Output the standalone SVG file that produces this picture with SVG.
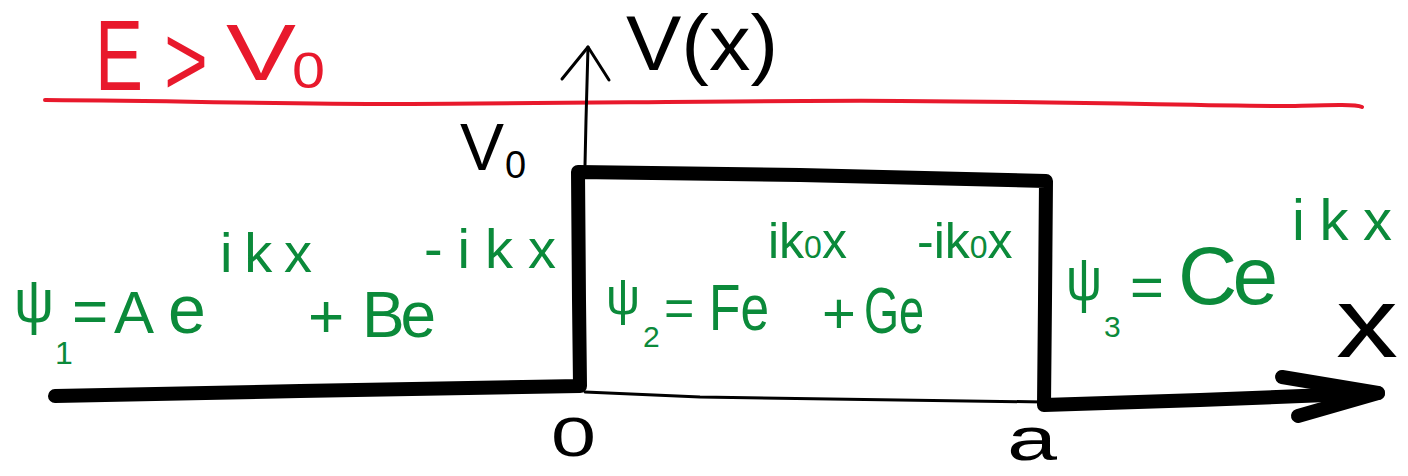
<svg xmlns="http://www.w3.org/2000/svg" width="1408" height="476" viewBox="0 0 1408 476">
<style>
.red{fill:#e8192c;font-family:"Liberation Sans",Arial,sans-serif}
.blk{fill:#000;font-family:"Liberation Sans",Arial,sans-serif}
.grn{fill:#0b8a3a;font-family:"Liberation Sans",Arial,sans-serif}
.thick{fill:none;stroke:#000;stroke-width:14;stroke-linecap:round;stroke-linejoin:round}
.thin{fill:none;stroke:#000;stroke-width:3;stroke-linecap:round;stroke-linejoin:round}
</style>
<rect width="1408" height="476" fill="#fff"/>
<g id="energy">
<path d="M45 100 C200 101 260 104 400 104 C600 103 800 100 900 101 C1100 102 1200 106 1290 106 C1330 105 1355 104 1362 107" fill="none" stroke="#e8192c" stroke-width="4" stroke-linecap="round"/>
<text class="red" x="95" y="90" font-size="100" textLength="48" lengthAdjust="spacingAndGlyphs">E</text>
<text class="red" x="164" y="95" font-size="100" textLength="44" lengthAdjust="spacingAndGlyphs">&gt;</text>
<text class="red" x="226" y="80" font-size="80" textLength="70" lengthAdjust="spacingAndGlyphs">V</text>
<text class="red" x="292" y="88" font-size="50" textLength="33" lengthAdjust="spacingAndGlyphs">0</text>
</g>
<g id="axes">
<path class="thin" d="M585 165 L586 120 L588 47"/>
<path class="thin" d="M562 79 L588 47 L609 80"/>
<path class="thin" d="M585 392 L700 397 L1043 402"/>
<text class="blk" x="626" y="70" font-size="78" textLength="152" lengthAdjust="spacingAndGlyphs">V(x)</text>
<text class="blk" x="1336" y="357" font-size="100" textLength="62" lengthAdjust="spacingAndGlyphs">x</text>
</g>
<g id="potential">
<path class="thick" d="M55 396 L300 391 L580 386 L579 300 L578 172 L800 175 L1046 181 L1045 300 L1044 405 L1200 400 L1378 393"/>
<path class="thick" d="M1282 377 L1378 393 L1298 416" stroke-width="8"/>
<text class="blk" x="460" y="170" font-size="66">V</text>
<text class="blk" x="505" y="178" font-size="38">0</text>
<text class="blk" x="551" y="456" font-size="56" textLength="45" lengthAdjust="spacingAndGlyphs">0</text>
<text class="blk" x="1007" y="460" font-size="62" textLength="50" lengthAdjust="spacingAndGlyphs">a</text>
</g>
<g id="psi1">
<text class="grn" x="14" y="322" font-size="62" textLength="40" lengthAdjust="spacingAndGlyphs">ψ</text>
<text class="grn" x="55" y="364" font-size="32">1</text>
<text class="grn" x="72" y="332" font-size="62">=</text>
<text class="grn" x="114" y="333" font-size="60">A</text>
<text class="grn" x="168" y="333" font-size="68">e</text>
<text class="grn" x="220" y="272" font-size="56" textLength="92" lengthAdjust="spacing">ikx</text>
<text class="grn" x="308" y="337" font-size="62">+</text>
<text class="grn" x="362" y="337" font-size="64" textLength="74" lengthAdjust="spacing">Be</text>
<text class="grn" x="424" y="268" font-size="56" textLength="132" lengthAdjust="spacing">-ikx</text>
</g>
<g id="psi2">
<text class="grn" x="606" y="314" font-size="52" textLength="34" lengthAdjust="spacingAndGlyphs">ψ</text>
<text class="grn" x="643" y="347" font-size="30">2</text>
<text class="grn" x="664" y="326" font-size="52">=</text>
<text class="grn" x="709" y="330" font-size="64" textLength="60" lengthAdjust="spacingAndGlyphs">Fe</text>
<text class="grn" x="768" y="258" font-size="50">i<tspan>k</tspan><tspan font-size="32">0</tspan><tspan>x</tspan></text>
<text class="grn" x="822" y="333" font-size="58">+</text>
<text class="grn" x="864" y="333" font-size="64" textLength="60" lengthAdjust="spacingAndGlyphs">Ge</text>
<text class="grn" x="917" y="258" font-size="50">-i<tspan>k</tspan><tspan font-size="32">0</tspan><tspan>x</tspan></text>
</g>
<g id="psi3">
<text class="grn" x="1066" y="300" font-size="62" textLength="36" lengthAdjust="spacingAndGlyphs">ψ</text>
<text class="grn" x="1104" y="337" font-size="30">3</text>
<text class="grn" x="1130" y="307" font-size="58">=</text>
<text class="grn" x="1178" y="304" font-size="82" textLength="100" lengthAdjust="spacing">Ce</text>
<text class="grn" x="1292" y="240" font-size="58" textLength="100" lengthAdjust="spacing">ikx</text>
</g>
</svg>
